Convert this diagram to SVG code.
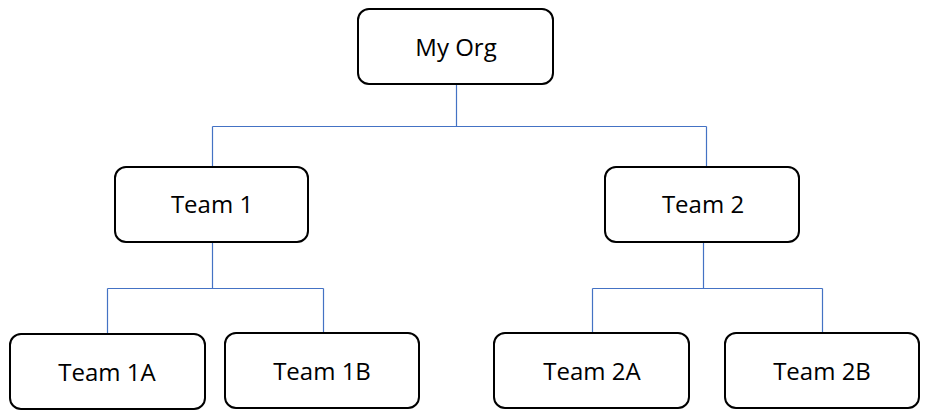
<svg xmlns="http://www.w3.org/2000/svg" width="931" height="419" viewBox="0 0 931 419">
<style>
.box{fill:#fff;stroke:#000;stroke-width:2}
.lbl{font-family:"Open Sans","Liberation Sans",sans-serif;font-size:24px;fill:#000;text-anchor:middle}
.conn{fill:none;stroke:#4472C4;stroke-width:1.2}
</style>
<rect width="931" height="419" fill="#fff"/>
<g id="connectors">
<path class="conn" d="M456.5,85 V126.5 M212.5,126.5 H706.5 M212.5,126.5 V167 M706.5,126.5 V167"/>
<path class="conn" d="M212.5,243 V288.5 M107.5,288.5 H323.5 M107.5,288.5 V334 M323.5,288.5 V333"/>
<path class="conn" d="M703.5,243 V288.5 M592.5,288.5 H822.5 M592.5,288.5 V333 M822.5,288.5 V333"/>
</g>
<g id="my-org"><rect class="box" x="358" y="9" width="195" height="75" rx="11"/><text class="lbl" x="456" y="56">My Org</text></g>
<g id="team-1"><rect class="box" x="115" y="167" width="193" height="75" rx="11"/><text class="lbl" x="212" y="213">Team 1</text></g>
<g id="team-2"><rect class="box" x="605" y="167" width="194" height="75" rx="11"/><text class="lbl" x="703" y="213">Team 2</text></g>
<g id="team-1a"><rect class="box" x="10" y="334" width="195" height="75" rx="11"/><text class="lbl" x="107" y="381">Team 1A</text></g>
<g id="team-1b"><rect class="box" x="225" y="333" width="194" height="75" rx="11"/><text class="lbl" x="322" y="380">Team 1B</text></g>
<g id="team-2a"><rect class="box" x="494" y="333" width="195" height="75" rx="11"/><text class="lbl" x="592" y="380">Team 2A</text></g>
<g id="team-2b"><rect class="box" x="725" y="333" width="194" height="75" rx="11"/><text class="lbl" x="822" y="380">Team 2B</text></g>
</svg>
